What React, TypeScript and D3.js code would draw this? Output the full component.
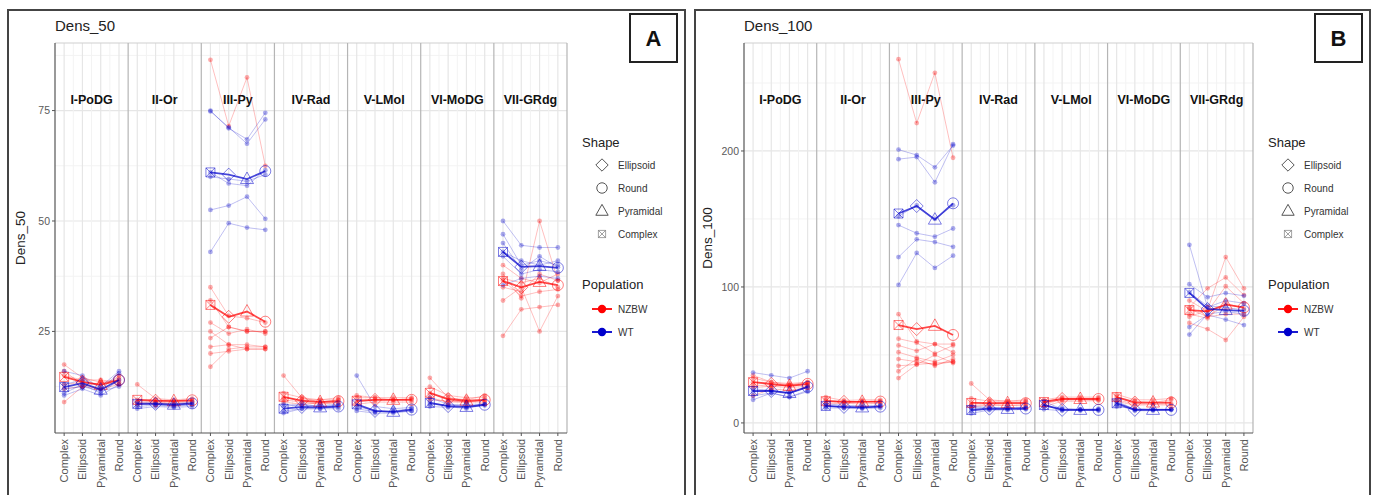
import React from "react";
import * as d3 from "d3";

const regions = ["I-PoDG", "II-Or", "III-Py", "IV-Rad", "V-LMol", "VI-MoDG", "VII-GRdg"];
const shapes = ["Complex", "Ellipsoid", "Pyramidal", "Round"];
const legendShapes = ["Ellipsoid", "Round", "Pyramidal", "Complex"];
const populations = ["NZBW", "WT"];

// group means, one row per region, values in shape order
const dens50MeanNZBW = [
  [14.7, 13.6, 12.9, 14.0],
  [9.5, 9.3, 9.2, 9.4],
  [31.0, 28.3, 29.5, 27.2],
  [10.2, 9.3, 9.0, 9.2],
  [9.3, 9.5, 9.5, 9.5],
  [11.1, 9.7, 9.3, 9.5],
  [36.4, 35.0, 36.2, 35.5],
];
const dens50MeanWT = [
  [12.4, 13.3, 11.8, 14.0],
  [8.6, 8.6, 8.4, 8.7],
  [61.0, 60.5, 59.5, 61.3],
  [7.5, 7.9, 7.8, 8.0],
  [8.5, 7.0, 6.8, 7.3],
  [8.8, 8.1, 7.9, 8.4],
  [43.0, 39.6, 39.8, 39.4],
];
// single animals, per region
const dens50SubjNZBW = [
  [[17.5, 14.5, 13.5, 14], [16, 13, 12, 15], [15, 14, 14, 13.5], [13, 13.5, 13, 14.5], [9, 12.5, 12, 13], [12, 12.5, 13.5, 13]],
  [[13, 9.8, 9.5, 9.8], [9.5, 9.5, 9.3, 9.5], [9, 9, 8.8, 9.2], [8.5, 8.8, 8.5, 8.8]],
  [[86.5, 71.5, 82.5, 62.5], [35, 28.5, 28, 27], [32, 26, 25, 25], [27, 24.5, 25.5, 24.5], [25, 22, 22, 21.5], [23.5, 26, 25, 25], [21.5, 22, 21, 21], [20, 20.5, 21, 21], [17, 21, 21.5, 21.5]],
  [[15, 10, 9, 9.5], [11, 10, 9.5, 10], [10, 9.5, 9.5, 9.5], [9.5, 9, 8.5, 9], [9, 8.5, 8.8, 8.8]],
  [[10, 10, 9.5, 9.5], [9, 9.5, 9.5, 9.8], [8.5, 9, 9, 9], [10.5, 10, 10, 10]],
  [[14.5, 10, 9.5, 10.5], [12.5, 10.5, 10, 10], [11, 9.5, 9, 9.5], [10, 9, 9, 9], [9.5, 9.2, 9, 9.3]],
  [[38, 32.5, 50, 36.5], [24, 30, 30.5, 31], [32, 35, 25, 33], [36.5, 33, 34, 34.5], [37, 36, 37, 35], [35, 34, 38, 36.5], [40, 37, 36, 38]],
];
const dens50SubjWT = [
  [[16, 15, 12, 15.5], [13, 14, 12.5, 16], [11, 13, 11, 14], [10.5, 12, 10.5, 13], [12, 12.5, 11.5, 12.5]],
  [[8.5, 8.5, 8.2, 8.5], [8, 8.3, 8, 8.4], [9, 8.8, 8.6, 9], [7.5, 8, 7.8, 8]],
  [[75, 71, 68.5, 74.5], [74.8, 71.2, 67.5, 73], [61, 58.5, 58, 61.5], [60, 59.5, 59, 60.5], [52.5, 53.5, 55.5, 50.5], [43, 49.5, 48.5, 48]],
  [[7, 7.5, 7.5, 8], [6.5, 7.5, 7.5, 7.5], [8, 8.5, 8, 8.3], [8.5, 8.2, 8.2, 8.5]],
  [[15, 8, 7.5, 7.8], [8, 7, 6.8, 7], [7, 6.5, 6.5, 7], [7.5, 6.8, 7, 7.5]],
  [[10, 8.5, 8, 8.5], [9, 8, 7.5, 8.5], [8, 7.8, 7.8, 8.2], [8.5, 8.3, 8.5, 8.5]],
  [[50, 44.5, 44, 44], [47, 40, 41, 40], [45, 39, 42, 39.5], [42, 38, 39, 38.5], [35.5, 37, 37.5, 37], [43, 41, 40, 41]],
];

const dens100MeanNZBW = [
  [30, 28.7, 27.2, 28.7],
  [16, 15.5, 15.5, 15.7],
  [72, 69, 71.4, 64.7],
  [14.7, 14.5, 14.5, 14.5],
  [15.4, 17.6, 17.6, 17.6],
  [19, 15, 15, 15],
  [83, 82, 87, 85],
];
const dens100MeanWT = [
  [23.5, 23.5, 22, 26.5],
  [12.5, 11.8, 11.4, 12],
  [154, 159.5, 149.5, 161.5],
  [9.5, 10.5, 10.3, 10.6],
  [13.2, 9.6, 9.6, 9.6],
  [14.5, 9.6, 9.6, 9.6],
  [95.6, 83.8, 83, 82.4],
];
const dens100SubjNZBW = [
  [[33, 30, 29, 30], [30, 28, 27, 28], [28, 27, 28, 30], [26, 27, 26, 27], [35, 30, 28, 29], [20, 25, 24, 26]],
  [[19, 16.5, 17, 17], [16, 16, 15.5, 16], [14, 14.5, 14, 14.5], [17, 15, 16, 15.5]],
  [[267.5, 220.5, 257.5, 195], [80, 60, 58, 58], [62, 59, 51, 57], [57, 53, 58, 52], [52, 48, 45, 50], [47, 45, 43, 45], [42, 43, 50, 44], [38, 47, 42, 47], [33, 43, 44, 45]],
  [[29, 17, 16, 16], [18, 16, 16, 17], [15, 14.5, 15, 15], [13, 13.5, 13, 13.5], [12, 13, 13, 12.5]],
  [[17, 19, 19, 19], [14, 17, 17, 17], [16, 18, 18, 18], [12, 16, 16, 16.5]],
  [[21, 17, 17, 18], [19, 16, 15, 17], [17, 14, 14, 14], [16, 13, 13.5, 13]],
  [[78, 83, 122, 99], [85, 99, 107, 94], [73.5, 69, 61, 78], [90, 82, 100.5, 88], [80, 77, 88, 84], [84, 78, 80, 80]],
];
const dens100SubjWT = [
  [[37, 35, 33, 38], [25, 24, 22, 27], [20, 22, 19, 24], [17, 22, 19, 23], [23, 24, 22, 26]],
  [[13, 11, 11, 12], [12, 12, 11.5, 12.5], [11, 11, 10.5, 11], [14, 13, 12.5, 13]],
  [[201, 197, 188, 204], [194, 195.5, 177, 205], [152, 160, 150, 160], [145.5, 139.5, 137, 143], [122, 135, 133, 129.5], [101.5, 125, 114, 123]],
  [[7, 9.5, 9.5, 10], [9, 10, 10, 10.5], [11, 11, 11, 11.5], [12, 11.5, 11, 11]],
  [[16, 10, 9, 10], [13, 9.5, 10, 9.5], [10, 9, 9.5, 9], [12, 11, 10, 10.5]],
  [[16, 10, 10, 10], [14, 9, 9, 9.5], [13, 9.5, 9.5, 10], [12, 10.5, 10, 10]],
  [[131, 85, 90, 88], [102, 92.5, 95.5, 93.5], [96, 86, 85, 83], [70.5, 79.5, 76, 72], [65, 80, 82, 80]],
];

const dens50Ticks = [25, 50, 75];
const dens100Ticks = [0, 100, 200];

const popColor: Record<string, string> = { NZBW: "#ff0000", WT: "#0000cc" };
const FONT = "'Liberation Sans', Arial, sans-serif";

function shapeMark(shape: string, x: number, y: number, color: string, key: string, scale = 1) {
  const s = scale;
  if (shape === "Round") return <circle key={key} cx={x} cy={y} r={5.5 * s} fill="none" stroke={color} />;
  if (shape === "Ellipsoid")
    return <path key={key} d={`M${x},${y - 6.5 * s}L${x + 6.5 * s},${y}L${x},${y + 6.5 * s}L${x - 6.5 * s},${y}Z`} fill="none" stroke={color} />;
  if (shape === "Pyramidal")
    return <path key={key} d={`M${x},${y - 7 * s}L${x + 6.5 * s},${y + 4.5 * s}L${x - 6.5 * s},${y + 4.5 * s}Z`} fill="none" stroke={color} />;
  const h = 4.5 * s;
  return (
    <path key={key}
      d={`M${x - h},${y - h}h${2 * h}v${2 * h}h${-2 * h}ZM${x - h},${y - h}L${x + h},${y + h}M${x + h},${y - h}L${x - h},${y + h}`}
      fill="none" stroke={color} />
  );
}

type PanelProps = {
  fx: number; fw: number; left: number; right: number;
  domain: [number, number]; ticks: number[]; title: string; tag: string;
  meanN: number[][]; meanW: number[][]; subjN: number[][][]; subjW: number[][][];
};

function ticksMid(ticks: number[], domain: [number, number]) {
  const d = ticks[1] - ticks[0];
  const out: number[] = [];
  for (let v = ticks[0] - d / 2; v <= domain[1]; v += d) if (v >= domain[0]) out.push(v);
  return out;
}

function Panel(p: PanelProps) {
  const top = 43, bottom = 433;
  const y = d3.scaleLinear().domain(p.domain).range([bottom, top]);
  const fac = d3.scaleBand().domain(regions).range([p.left, p.right]).paddingInner(0);
  const xs = d3.scalePoint().domain(shapes).range([0, fac.bandwidth()]).padding(0.5);
  const step = xs.step();
  const line = d3.line<number>().x((_, i) => xs(shapes[i])!).y((v) => y(v));
  const minorY = ticksMid(p.ticks, p.domain);

  const groups = [
    { pop: "NZBW", mean: p.meanN, subj: p.subjN },
    { pop: "WT", mean: p.meanW, subj: p.subjW },
  ];

  const lx = p.right + 15;
  return (
    <g>
      <rect x={p.fx} y={10} width={p.fw} height={520} fill="#fff" stroke="#444" strokeWidth={2} />
      <text x={p.left} y={31} fontSize={15} fill="#222">{p.title}</text>
      {/* grid */}
      {minorY.map((v) => (
        <line key={"my" + v} x1={p.left} x2={p.right} y1={y(v)} y2={y(v)} stroke="#f3f3f3" strokeWidth={1} />
      ))}
      {p.ticks.map((v) => (
        <line key={"gy" + v} x1={p.left} x2={p.right} y1={y(v)} y2={y(v)} stroke="#e6e6e6" strokeWidth={1.2} />
      ))}
      {regions.map((r) => (
        <g key={"vg" + r} transform={`translate(${fac(r)},0)`}>
          {shapes.slice(0, 3).map((s) => (
            <line key={s} x1={xs(s)! + step / 2} x2={xs(s)! + step / 2} y1={top} y2={bottom} stroke="#f3f3f3" />
          ))}
          {shapes.map((s) => (
            <line key={"M" + s} x1={xs(s)} x2={xs(s)} y1={top} y2={bottom} stroke="#e6e6e6" strokeWidth={1.2} />
          ))}
        </g>
      ))}
      {/* facet borders */}
      <line x1={p.left} x2={p.right} y1={top} y2={top} stroke="#cfcfcf" />
      {regions.slice(1).map((r) => (
        <line key={"fb" + r} x1={fac(r)} x2={fac(r)} y1={top} y2={bottom} stroke="#b5b5b5" strokeWidth={1.2} />
      ))}
      <line x1={p.right} x2={p.right} y1={top} y2={bottom} stroke="#b5b5b5" strokeWidth={1.2} />
      <line x1={p.left} x2={p.left} y1={top} y2={bottom} stroke="#555" strokeWidth={1.2} />
      <line x1={p.left} x2={p.right} y1={bottom} y2={bottom} stroke="#555" strokeWidth={1.2} />
      {/* facet labels */}
      {regions.map((r) => (
        <text key={"fl" + r} x={fac(r)! + fac.bandwidth() / 2} y={104} textAnchor="middle" fontSize={12.5} fontWeight="bold" fill="#111">{r}</text>
      ))}
      {/* subjects */}
      {groups.map((g) =>
        regions.map((r, ri) => (
          <g key={g.pop + "s" + r} transform={`translate(${fac(r)},0)`}>
            {g.subj[ri].map((vals, k) => (
              <g key={k}>
                <path d={line(vals)!} fill="none" stroke={popColor[g.pop]} strokeOpacity={0.25} strokeWidth={1} />
                {vals.map((v, i) => (
                  <circle key={i} cx={xs(shapes[i])} cy={y(v)} r={2.4} fill={popColor[g.pop]} fillOpacity={0.32} />
                ))}
              </g>
            ))}
          </g>
        ))
      )}
      {/* means */}
      {groups.map((g) =>
        regions.map((r, ri) => (
          <g key={g.pop + "m" + r} transform={`translate(${fac(r)},0)`}>
            <path d={line(g.mean[ri])!} fill="none" stroke={popColor[g.pop]} strokeOpacity={0.72} strokeWidth={1.8} />
            <g strokeOpacity={0.5}>
              {g.mean[ri].map((v, i) => shapeMark(shapes[i], xs(shapes[i])!, y(v), popColor[g.pop], "m" + i))}
            </g>
          </g>
        ))
      )}
      {/* y axis */}
      {p.ticks.map((v) => (
        <g key={"yt" + v}>
          <line x1={p.left - 3} x2={p.left} y1={y(v)} y2={y(v)} stroke="#555" />
          <text x={p.left - 5} y={y(v)} dy="0.35em" textAnchor="end" fontSize={10.5} fill="#5a5a5a">{v}</text>
        </g>
      ))}
      <text transform={`translate(${p.fx + 17},${(top + bottom) / 2}) rotate(-90)`} textAnchor="middle" fontSize={13.5} fill="#222">{p.title}</text>
      {/* x axis */}
      {regions.map((r) =>
        shapes.map((s) => {
          const x = fac(r)! + xs(s)!;
          return (
            <g key={"xt" + r + s}>
              <line x1={x} x2={x} y1={bottom} y2={bottom + 3} stroke="#555" />
              <text transform={`translate(${x},${bottom + 6}) rotate(-90)`} dy="0.35em" textAnchor="end" fontSize={11} fill="#555">{s}</text>
            </g>
          );
        })
      )}
      {/* legend */}
      <text x={lx} y={147} fontSize={13} fill="#222">Shape</text>
      {legendShapes.map((s, i) => (
        <g key={"ls" + s}>
          {s === "Complex"
            ? <g opacity={0.6}>{shapeMark(s, lx + 20, 165 + i * 23, "#666", "k", 0.8)}</g>
            : shapeMark(s, lx + 20, 165 + i * 23, "#555", "k", 0.95)}
          <text x={lx + 36} y={165 + i * 23} dy="0.35em" fontSize={10} fill="#333">{s}</text>
        </g>
      ))}
      <text x={lx} y={289} fontSize={13} fill="#222">Population</text>
      {populations.map((pop, i) => (
        <g key={"lp" + pop}>
          <line x1={lx + 10} x2={lx + 30} y1={309 + i * 23} y2={309 + i * 23} stroke={popColor[pop]} strokeWidth={1.8} />
          <circle cx={lx + 20} cy={309 + i * 23} r={4.2} fill={popColor[pop]} />
          <text x={lx + 36} y={309 + i * 23} dy="0.35em" fontSize={10} fill="#333">{pop}</text>
        </g>
      ))}
      {/* panel tag */}
      <rect x={p.fx + p.fw - 55} y={14} width={47} height={48} fill="#fff" stroke="#222" strokeWidth={2} />
      <text x={p.fx + p.fw - 31.5} y={46} textAnchor="middle" fontSize={22} fontWeight="bold" fill="#111">{p.tag}</text>
    </g>
  );
}

export default function App() {
  return (
    <svg width={1373} height={495} style={{ position: "absolute", left: 0, top: 0, fontFamily: FONT }}>
      <rect width={1373} height={495} fill="#fff" />
      <Panel fx={8} fw={677} left={55} right={567} domain={[2.0, 90.3]} ticks={dens50Ticks} title="Dens_50" tag="A"
        meanN={dens50MeanNZBW} meanW={dens50MeanWT} subjN={dens50SubjNZBW} subjW={dens50SubjWT} />
      <Panel fx={695} fw={675} left={744} right={1253} domain={[-7.4, 279.4]} ticks={dens100Ticks} title="Dens_100" tag="B"
        meanN={dens100MeanNZBW} meanW={dens100MeanWT} subjN={dens100SubjNZBW} subjW={dens100SubjWT} />
    </svg>
  );
}
